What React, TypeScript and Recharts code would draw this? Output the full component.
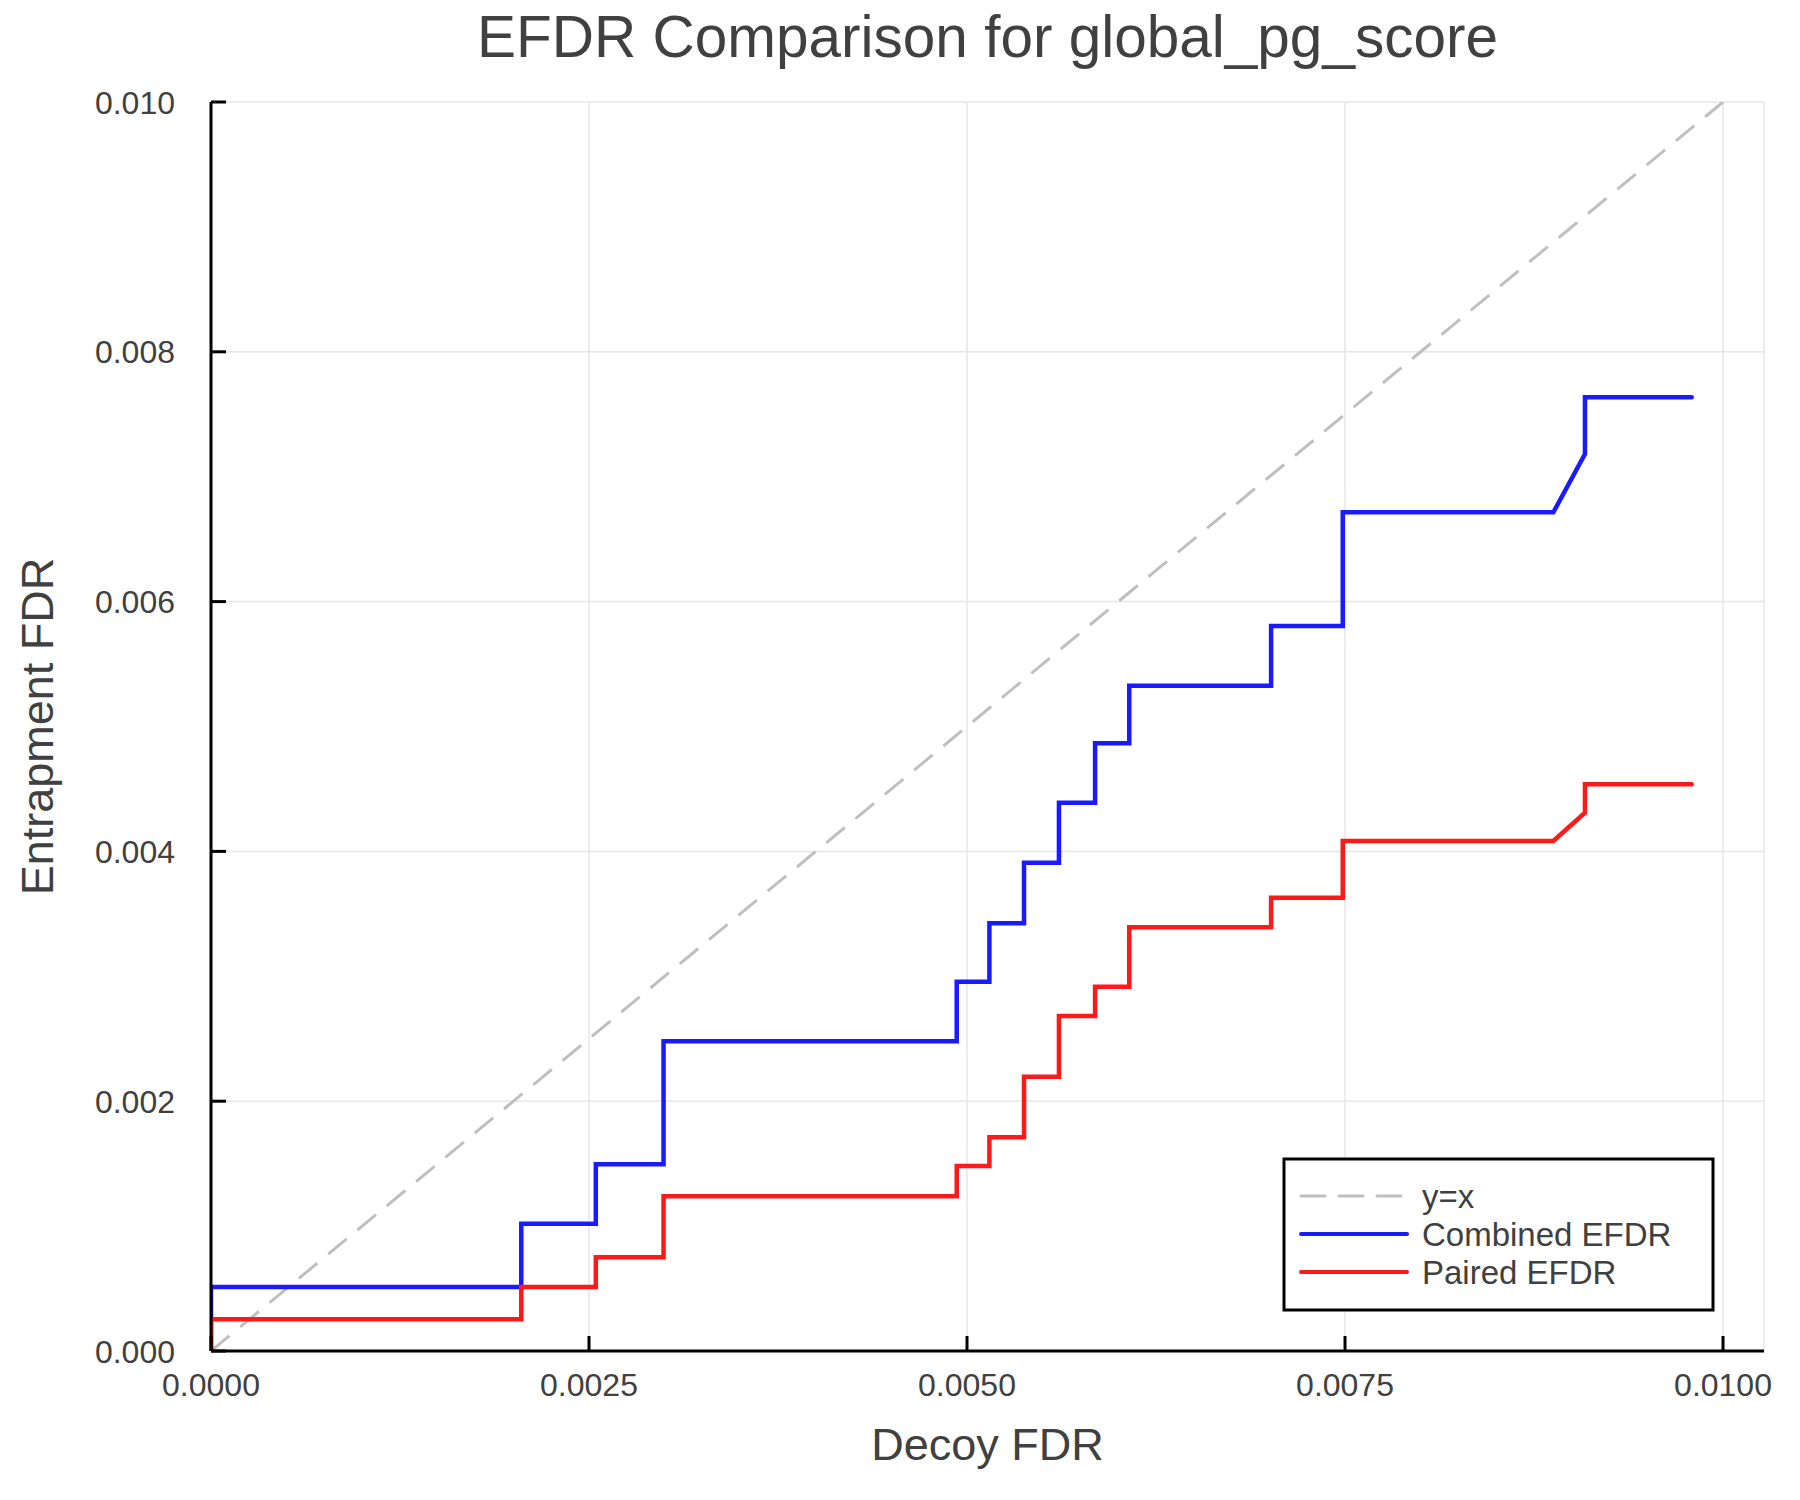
import React from 'react';
import { LineChart, Line, XAxis, YAxis, CartesianGrid } from 'recharts';

// ── Data ────────────────────────────────────────────────────────────
// vertices of the two EFDR curves, sharing the same decoy FDR positions
const decoyFdr = [
  0, 0, 0.002052, 0.002052, 0.002545, 0.002545, 0.002993, 0.002993,
  0.004932, 0.004932, 0.005148, 0.005148, 0.005377, 0.005377, 0.005608, 0.005608,
  0.005847, 0.005847, 0.006073, 0.006073, 0.007011, 0.007011, 0.007485, 0.007485,
  0.008878, 0.009087, 0.009087, 0.009793,
];
const combinedEfdr = [
  0, 0.000512, 0.000512, 0.001018, 0.001018, 0.001496, 0.001496, 0.00248,
  0.00248, 0.002957, 0.002957, 0.003424, 0.003424, 0.00391, 0.00391, 0.00439,
  0.00439, 0.004866, 0.004866, 0.005327, 0.005327, 0.005805, 0.005805, 0.006715,
  0.006715, 0.007182, 0.007636, 0.007636,
];
const pairedEfdr = [
  0, 0.000255, 0.000255, 0.000512, 0.000512, 0.000751, 0.000751, 0.001239,
  0.001239, 0.001481, 0.001481, 0.001711, 0.001711, 0.002196, 0.002196, 0.002682,
  0.002682, 0.002917, 0.002917, 0.003392, 0.003392, 0.003628, 0.003628, 0.004083,
  0.004083, 0.00431, 0.004537, 0.004537,
];
const identityX = [0, 0.01];

const xTicks = [0, 0.0025, 0.005, 0.0075, 0.01];
const yTicks = [0, 0.002, 0.004, 0.006, 0.008, 0.01];
const X_MAX = 0.010271;

const combinedData = decoyFdr.map((x, i) => ({ x, y: combinedEfdr[i] }));
const pairedData = decoyFdr.map((x, i) => ({ x, y: pairedEfdr[i] }));
const identityData = identityX.map((x) => ({ x, y: x }));

// ── Styling ─────────────────────────────────────────────────────────
const W = 1800;
const H = 1500;
const PLOT_LEFT = 211;
const PLOT_TOP = 102;
const PLOT_RIGHT = 1764;
const PLOT_BOTTOM = 1351;
const TEXT = '#404040';
const FONT = '"Liberation Sans", Arial, sans-serif';
const BLUE = '#1a1aff';
const RED = '#ff1a1a';
const GREY = '#bfbfbf';

const legendItems = [
  { name: 'y=x', color: GREY, dash: '24 14', width: 3 },
  { name: 'Combined EFDR', color: BLUE, dash: undefined, width: 4 },
  { name: 'Paired EFDR', color: RED, dash: undefined, width: 4 },
];

function XTick({ x, y, payload }: any) {
  return (
    <g>
      <line x1={x} x2={x} y1={y} y2={y - 15} stroke="#000" strokeWidth={3} />
      <text x={x} y={y + 45} textAnchor="middle" fontSize={32} fill={TEXT}>
        {Number(payload.value).toFixed(4)}
      </text>
    </g>
  );
}

function YTick({ x, y, payload }: any) {
  return (
    <g>
      <line x1={x} x2={x + 15} y1={y} y2={y} stroke="#000" strokeWidth={3} />
      <text x={x - 36} y={y + 11.5} textAnchor="end" fontSize={32} fill={TEXT}>
        {Number(payload.value).toFixed(3)}
      </text>
    </g>
  );
}

const xLabel = () => (
  <text x={(PLOT_LEFT + PLOT_RIGHT) / 2} y={1460} textAnchor="middle" fontSize={45} fill={TEXT}>
    Decoy FDR
  </text>
);

const yLabel = () => (
  <text
    x={53}
    y={(PLOT_TOP + PLOT_BOTTOM) / 2}
    textAnchor="middle"
    fontSize={45}
    fill={TEXT}
    transform={`rotate(-90 53 ${(PLOT_TOP + PLOT_BOTTOM) / 2})`}
  >
    Entrapment FDR
  </text>
);

function LegendBox() {
  const left = 1284;
  const top = 1159;
  const rows = [1196, 1234, 1272];
  return (
    <svg
      width={W}
      height={H}
      style={{ position: 'absolute', left: 0, top: 0, pointerEvents: 'none' }}
    >
      <rect x={left} y={top} width={429} height={151} fill="#fff" stroke="#000" strokeWidth={3} />
      {legendItems.map((item, i) => (
        <g key={item.name}>
          <line
            x1={1301}
            x2={1407}
            y1={rows[i]}
            y2={rows[i]}
            stroke={item.color}
            strokeWidth={item.width}
            strokeDasharray={item.dash}
            strokeLinecap="round"
          />
          <text x={1422} y={rows[i] + 12} fontSize={33} fill={TEXT} fontFamily={FONT}>
            {item.name}
          </text>
        </g>
      ))}
      <text x={(PLOT_LEFT + PLOT_RIGHT) / 2} y={57} textAnchor="middle" fontSize={58.5} fill={TEXT} fontFamily={FONT}>
        EFDR Comparison for global_pg_score
      </text>
    </svg>
  );
}

export default function App() {
  return (
    <div
      style={{
        position: 'absolute',
        left: 0,
        top: 0,
        width: W,
        height: H,
        background: '#fff',
        fontFamily: FONT,
      }}
    >
      <LineChart
        width={W}
        height={H}
        margin={{ top: PLOT_TOP, right: W - PLOT_RIGHT, bottom: 0, left: 0 }}
      >
        <CartesianGrid stroke="#e6e6e6" strokeWidth={1.5} />
        <XAxis
          dataKey="x"
          type="number"
          domain={[0, X_MAX]}
          ticks={xTicks}
          interval={0}
          allowDataOverflow
          height={H - PLOT_BOTTOM}
          tickSize={0}
          tickMargin={0}
          tickLine={false}
          tick={<XTick />}
          axisLine={{ stroke: '#000', strokeWidth: 3 }}
          label={{ value: 'Decoy FDR', content: xLabel }}
        />
        <YAxis
          dataKey="y"
          type="number"
          domain={[0, 0.01]}
          ticks={yTicks}
          interval={0}
          allowDataOverflow
          width={PLOT_LEFT}
          tickSize={0}
          tickMargin={0}
          tickLine={false}
          tick={<YTick />}
          axisLine={{ stroke: '#000', strokeWidth: 3 }}
          label={{ value: 'Entrapment FDR', content: yLabel }}
        />
        <Line
          data={identityData}
          dataKey="y"
          name="y=x"
          type="linear"
          stroke={GREY}
          strokeWidth={3}
          strokeDasharray="24 14"
          dot={false}
          activeDot={false}
          isAnimationActive={false}
        />
        <Line
          data={combinedData}
          dataKey="y"
          name="Combined EFDR"
          type="linear"
          stroke={BLUE}
          strokeWidth={4.5}
          strokeLinecap="round"
          dot={false}
          activeDot={false}
          isAnimationActive={false}
        />
        <Line
          data={pairedData}
          dataKey="y"
          name="Paired EFDR"
          type="linear"
          stroke={RED}
          strokeWidth={4.5}
          strokeLinecap="round"
          dot={false}
          activeDot={false}
          isAnimationActive={false}
        />
      </LineChart>
      <LegendBox />
    </div>
  );
}
